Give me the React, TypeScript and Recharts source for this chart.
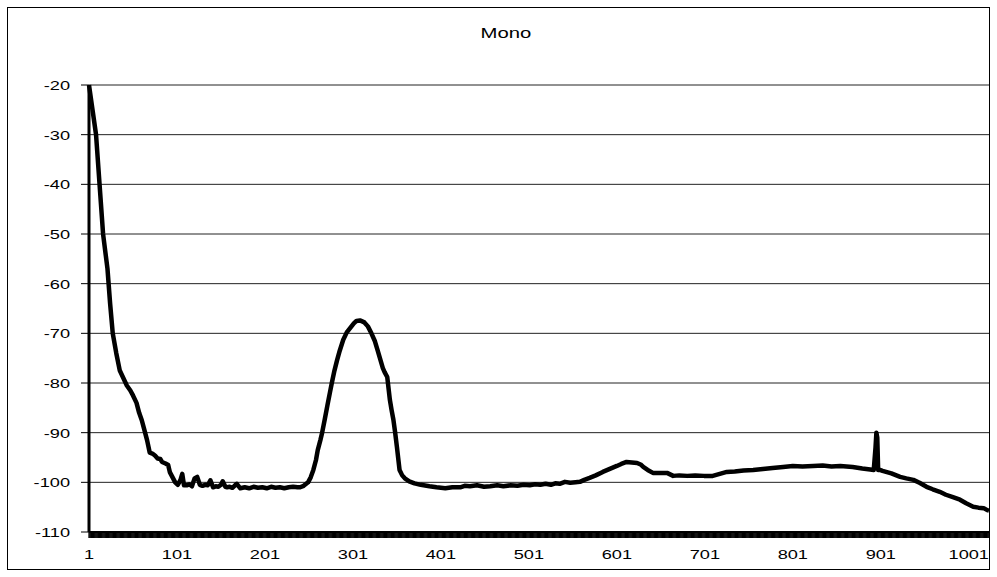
import { LineChart, Line, XAxis, YAxis, CartesianGrid } from 'recharts';

const binIndex = [
  1, 5, 9, 13, 17, 22, 25, 28, 32, 36, 40, 44, 48, 51, 55, 58, 61, 64, 67, 70,
  73, 76, 79, 82, 84, 88, 91, 93, 96, 99, 102, 105, 107, 109, 112, 115, 118, 121, 124, 127,
  130, 133, 136, 139, 142, 145, 148, 151, 153, 156, 158, 161, 164, 167, 169, 173, 178, 183, 188, 193,
  198, 203, 208, 213, 218, 223, 228, 233, 238, 241, 245, 250, 253, 256, 259, 261, 264, 266, 269, 272,
  275, 277, 280, 283, 286, 290, 294, 298, 302, 305, 309, 314, 318, 322, 326, 329, 332, 335, 337, 340,
  343, 345, 347, 349, 351, 354, 357, 360, 365, 371, 378, 388, 396, 406, 414, 423, 428, 434, 442, 450,
  457, 465, 472, 480, 488, 495, 502, 508, 514, 520, 526, 531, 536, 542, 548, 554, 559, 564, 570, 577,
  585, 593, 601, 606, 612, 618, 624, 628, 631, 636, 642, 650, 658, 665, 672, 681, 690, 700, 710, 718,
  726, 735, 745, 756, 767, 778, 790, 801, 812, 824, 835, 845, 855, 862, 869, 880, 889, 893, 895, 896,
  897, 898, 900, 903, 913, 923, 930, 938, 945, 953, 960, 968, 975, 983, 991, 998, 1006, 1012, 1018, 1022,
  1024,
];

const monoLevel = [
  -20, -25, -30, -40, -50, -57, -64, -70, -74, -77.5, -79, -80.5, -81.5, -82.5, -84, -86, -87.5, -89.5, -91.5, -94,
  -94.2, -94.6, -95.2, -95.3, -95.9, -96.2, -96.5, -98, -99, -100, -100.5, -99.5, -98.3, -100.6, -100.6, -100.4, -100.8, -99.2, -98.9, -100.5,
  -100.7, -100.5, -100.6, -99.6, -101, -100.8, -100.9, -100.5, -99.8, -100.9, -101, -100.9, -101.1, -100.6, -100.3, -101.2, -101, -101.2, -100.9, -101.1,
  -101, -101.2, -100.9, -101.1, -101, -101.2, -101, -100.9, -101, -101, -100.7, -100, -99, -97.5, -95.5, -93.5, -91.5, -90, -87.3, -84.5,
  -81.8, -80, -77.5, -75.4, -73.5, -71.3, -69.8, -68.9, -68, -67.5, -67.4, -67.8, -68.6, -70, -71.6, -73.4, -75.2, -77, -77.8, -78.8,
  -83.4, -85.5, -87.4, -90, -92.9, -97.5, -98.6, -99.2, -99.8, -100.2, -100.5, -100.8, -101, -101.2, -101, -101, -100.7, -100.8, -100.6, -100.9,
  -100.8, -100.6, -100.8, -100.6, -100.7, -100.5, -100.6, -100.4, -100.5, -100.3, -100.5, -100.2, -100.3, -99.9, -100.1, -100, -99.9, -99.5, -99.1, -98.6,
  -97.9, -97.3, -96.7, -96.3, -95.9, -96, -96.1, -96.4, -96.9, -97.5, -98.1, -98.1, -98.1, -98.7, -98.6, -98.7, -98.6, -98.7, -98.7, -98.3,
  -97.9, -97.8, -97.6, -97.5, -97.3, -97.1, -96.9, -96.7, -96.8, -96.7, -96.6, -96.8, -96.7, -96.8, -96.9, -97.2, -97.4, -97.5, -93, -90,
  -91, -97.5, -97.5, -97.7, -98.2, -98.9, -99.2, -99.5, -100.1, -100.9, -101.4, -101.9, -102.5, -103, -103.5, -104.2, -104.9, -105.1, -105.2, -105.6,
  -105.7,
];

const xLabels = [1, 101, 201, 301, 401, 501, 601, 701, 801, 901, 1001];
const yTicks = [-110, -100, -90, -80, -70, -60, -50, -40, -30, -20];
const binCount = 1024;

const data = binIndex.map((x, k) => ({ x, v: monoLevel[k] }));
// one tick mark per bin, like the excel category axis
const binTicks = Array.from({ length: binCount }, (_, k) => k + 1);

const FONT = '"Liberation Sans", Arial, sans-serif';

function XTick({ x, payload }: any) {
  if (!xLabels.includes(payload.value)) return <g />;
  return (
    <text transform={`translate(${x},551) scale(1.4,1)`} textAnchor="middle" fontSize={13} fontFamily={FONT} fill="#000">
      {payload.value}
    </text>
  );
}

function YTick({ y, payload }: any) {
  return (
    <text transform={`translate(62,${y + 5}) scale(1.4,1)`} textAnchor="end" fontSize={13} fontFamily={FONT} fill="#000">
      {payload.value}
    </text>
  );
}

export default function App() {
  return (
    <div style={{ position: 'absolute', left: 0, top: 0, width: 997, height: 577, background: '#fff' }}>
      <div style={{ position: 'absolute', left: 8, top: 8 }}>
        <LineChart width={982} height={562} data={data} margin={{ top: 77, right: 1, left: 0, bottom: 0 }}>
          <CartesianGrid vertical={false} stroke="#222" strokeWidth={1} />
          <XAxis
            dataKey="x"
            type="number"
            domain={[1, binCount]}
            ticks={binTicks}
            interval={0}
            height={38}
            tickSize={6}
            axisLine={{ stroke: '#000', strokeWidth: 2 }}
            tickLine={{ stroke: '#000', strokeWidth: 1.3 }}
            tick={<XTick />}
          />
          <YAxis
            type="number"
            domain={[-110, -20]}
            ticks={yTicks}
            interval={0}
            width={81}
            tickSize={8}
            axisLine={{ stroke: '#000', strokeWidth: 3 }}
            tickLine={{ stroke: '#000', strokeWidth: 1 }}
            tick={<YTick />}
          />
          <Line
            type="linear"
            dataKey="v"
            stroke="#000"
            strokeWidth={4.5}
            strokeLinejoin="round"
            dot={false}
            isAnimationActive={false}
          />
        </LineChart>
      </div>
      <svg width={997} height={577} style={{ position: 'absolute', left: 0, top: 0, pointerEvents: 'none' }}>
        <rect x={7.5} y={7.5} width={982} height={562} fill="none" stroke="#000" strokeWidth={1} />
        <text transform="translate(506,38) scale(1.45,1)" textAnchor="middle" fontSize={14} fontFamily={FONT} fill="#000">
          Mono
        </text>
      </svg>
    </div>
  );
}
